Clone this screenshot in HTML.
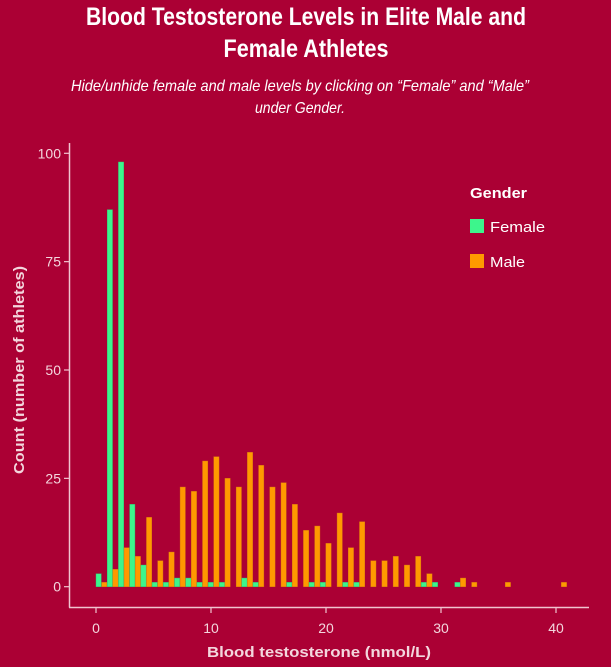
<!DOCTYPE html>
<html><head><meta charset="utf-8"><style>
html,body{margin:0;padding:0;background:#AB0034;}
svg{display:block;font-family:"Liberation Sans",sans-serif;}
</style></head><body>
<svg id="chart" width="611" height="667">
<rect width="611" height="667" fill="#AB0034"/>
<text x="306" y="25" text-anchor="middle" fill="#fff" font-weight="bold" font-size="25" textLength="440" lengthAdjust="spacingAndGlyphs">Blood Testosterone Levels in Elite Male and</text>
<text x="306" y="57" text-anchor="middle" fill="#fff" font-weight="bold" font-size="25" textLength="165" lengthAdjust="spacingAndGlyphs">Female Athletes</text>
<text x="300" y="91" text-anchor="middle" fill="#fff" font-style="italic" font-size="16" textLength="458" lengthAdjust="spacingAndGlyphs">Hide/unhide female and male levels by clicking on “Female” and “Male”</text>
<text x="300" y="113" text-anchor="middle" fill="#fff" font-style="italic" font-size="16" textLength="90" lengthAdjust="spacingAndGlyphs">under Gender.</text>
<g id="plot"></g>
<text transform="translate(24,370) rotate(-90)" text-anchor="middle" fill="#f3d6dd" font-weight="bold" font-size="15" textLength="208" lengthAdjust="spacingAndGlyphs">Count (number of athletes)</text>
<text x="319" y="657" text-anchor="middle" fill="#f3d6dd" font-weight="bold" font-size="15" textLength="224" lengthAdjust="spacingAndGlyphs">Blood testosterone (nmol/L)</text>
<text x="470" y="198" fill="#fff" font-weight="bold" font-size="15" textLength="57" lengthAdjust="spacingAndGlyphs">Gender</text>
<g style="cursor:pointer">
<rect x="470" y="219" width="14" height="14" fill="#3DF58C"/>
<text x="490" y="232" fill="#fff" font-size="15" textLength="55" lengthAdjust="spacingAndGlyphs">Female</text></g>
<g style="cursor:pointer">
<rect x="470" y="254" width="14" height="14" fill="#FF9900"/>
<text x="490" y="267" fill="#fff" font-size="15" textLength="35" lengthAdjust="spacingAndGlyphs">Male</text></g>
</svg>
<script>
const binIndex = [0,1,2,3,4,5,6,7,8,9,10,11,12,13,14,15,16,17,18,19,20,21,22,23,24,25,26,27,28,29,30,31,32,33,34,35,36,37,38,39,40,41];
const femaleCounts = [3,87,98,19,5,1,1,2,2,1,1,1,0,2,1,0,0,1,0,1,1,0,1,1,0,0,0,0,0,1,1,0,1,0,0,0,0,0,0,0,0,0];
const maleCounts = [1,4,9,7,16,6,8,23,22,29,30,25,23,31,28,23,24,19,13,14,10,17,9,15,6,6,7,5,7,3,0,0,2,1,0,0,1,0,0,0,0,1];
const xTicks = [0,10,20,30,40];
const yTicks = [0,25,50,75,100];
const binWidth = 0.975;

const NS = "http://www.w3.org/2000/svg";
const plot = document.getElementById('plot');
const x = v => 96 + v * 11.5;
const y = v => 586.7 - v * 4.334;
function mk(tag, attrs, parent){
  const e = document.createElementNS(NS, tag);
  for (const k in attrs) e.setAttribute(k, attrs[k]);
  (parent||plot).appendChild(e);
  return e;
}
const axisCol = "#f0c4cf";
let e;
e = mk('line',{x1:69.5,x2:69.5,y1:143,y2:607.5,stroke:axisCol,'stroke-width':1.5});


e = mk('line',{x1:69,x2:589,y1:607.5,y2:607.5,stroke:axisCol,'stroke-width':1.5});


yTicks.forEach(t => {
  mk('line',{x1:64,x2:69.5,y1:y(t),y2:y(t),stroke:axisCol,'stroke-width':1.2});
  e = mk('text',{x:61,y:y(t)+5,'text-anchor':'end',fill:'#f3d6dd','font-size':14});
  e.textContent = t;
  
  
});
xTicks.forEach(t => {
  mk('line',{x1:x(t),x2:x(t),y1:607.5,y2:613,stroke:axisCol,'stroke-width':1.2});
  e = mk('text',{x:x(t),y:633,'text-anchor':'middle',fill:'#f3d6dd','font-size':14});
  e.textContent = t;
  
  
});
const bw = 11.5 * binWidth / 2;
binIndex.forEach((k, i) => {
  const x0 = x(k * binWidth);
  if (femaleCounts[i] > 0) {
    e = mk('rect',{x:x0, y:y(femaleCounts[i]), width:bw-0.3, height:y(0)-y(femaleCounts[i]), fill:'#3DF58C', stroke:'#2fc070','stroke-width':0.4});
    
    
  }
  if (maleCounts[i] > 0) {
    e = mk('rect',{x:x0+bw, y:y(maleCounts[i]), width:bw-0.3, height:y(0)-y(maleCounts[i]), fill:'#FF9900', stroke:'#d57a10','stroke-width':0.4});
    
    
  }
});
</script>
</body></html>
